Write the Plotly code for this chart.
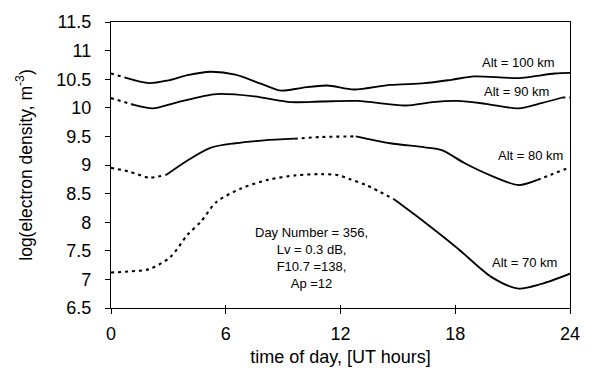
import plotly.graph_objects as go

# Electron density profiles (log10 m^-3) vs UT hour, per altitude
hours_100 = [0, 0.7, 2, 3, 4, 5.2, 6.5, 8, 8.9, 10, 11.3, 12.7, 14.6, 16.4, 17.8, 19, 21.3, 23.2, 24]
dens_100 = [10.60, 10.53, 10.43, 10.48, 10.57, 10.63, 10.58, 10.40, 10.30, 10.35, 10.39, 10.32, 10.40, 10.43, 10.49, 10.55, 10.52, 10.60, 10.61]
dotted_100 = [(0, 0.7)]

hours_90 = [0, 1.2, 2.2, 3.5, 5.5, 7.5, 9.4, 11, 12.9, 15.4, 16.8, 18.1, 19.6, 21.3, 22.5, 23.6, 24]
dens_90 = [10.17, 10.05, 9.99, 10.10, 10.24, 10.20, 10.10, 10.11, 10.12, 10.04, 10.10, 10.12, 10.07, 9.99, 10.08, 10.18, 10.18]
dotted_90 = [(0, 1.2), (23.6, 24)]

hours_80 = [0, 1, 2, 2.9, 4, 5.2, 6.5, 8, 9.6, 11, 12.8, 14.6, 16.4, 17.3, 18.5, 19.9, 21.3, 22.3, 23, 24]
dens_80 = [8.95, 8.88, 8.78, 8.83, 9.08, 9.30, 9.38, 9.43, 9.46, 9.49, 9.50, 9.38, 9.31, 9.26, 9.03, 8.81, 8.65, 8.74, 8.83, 8.96]
dotted_80 = [(0, 2.9), (9.6, 12.8), (22.3, 24)]

hours_70 = [0, 1, 2, 3.1, 4, 4.7, 5.5, 6.8, 8.2, 9.7, 11, 11.9, 12.5, 13.4, 14.8, 16.4, 18.1, 19.9, 21.3, 22.5, 24]
dens_70 = [7.12, 7.14, 7.18, 7.39, 7.78, 8.01, 8.35, 8.59, 8.74, 8.82, 8.84, 8.82, 8.75, 8.64, 8.40, 8.00, 7.55, 7.04, 6.84, 6.92, 7.10]
dotted_70 = [(0, 14.8)]

series = [
    (hours_100, dens_100, dotted_100),
    (hours_90, dens_90, dotted_90),
    (hours_80, dens_80, dotted_80),
    (hours_70, dens_70, dotted_70),
]

alt_labels = ["Alt = 100 km", "Alt = 90 km", "Alt = 80 km", "Alt = 70 km"]
alt_label_x = [21.3, 21.2, 21.95, 21.6]
alt_label_y = [10.80, 10.28, 9.17, 7.29]

x_ticks = [0, 6, 12, 18, 24]
info_lines = ["Day Number = 356,", "Lv = 0.3 dB,", "F10.7 =138,", "Ap =12"]

fig = go.Figure()


def in_dotted(a, b, ranges):
    return any(lo <= a and b <= hi for lo, hi in ranges)


for hrs, vals, dotted in series:
    # split the curve into runs of the same line style
    runs = []
    for i in range(len(hrs) - 1):
        style = "dot" if in_dotted(hrs[i], hrs[i + 1], dotted) else "solid"
        if runs and runs[-1][0] == style:
            runs[-1][1].append(i + 1)
        else:
            runs.append((style, [i, i + 1]))
    for style, idx in runs:
        fig.add_trace(go.Scatter(
            x=[hrs[k] for k in idx],
            y=[vals[k] for k in idx],
            mode="lines",
            line=dict(color="black", width=1.8 if style == "solid" else 2.1,
                      dash="solid" if style == "solid" else "3px,4px",
                      shape="spline", smoothing=0.8),
            showlegend=False,
            hoverinfo="skip",
        ))

label_font = dict(family="Liberation Sans, Arial", size=13, color="black")

for txt, lx, ly in zip(alt_labels, alt_label_x, alt_label_y):
    fig.add_annotation(x=lx, y=ly, text=txt, showarrow=False, font=label_font)

fig.add_annotation(x=10.5, y=7.37, text="<br>".join(info_lines), showarrow=False,
                   align="center", font=label_font)

font = dict(family="Liberation Sans, Arial", size=18, color="black")

fig.update_layout(
    width=592, height=378,
    margin=dict(l=111, r=22, t=16, b=70),
    paper_bgcolor="white", plot_bgcolor="white",
    font=font,
    xaxis=dict(range=[0, 24], tickvals=x_ticks, ticks="outside", ticklen=5,
               tickwidth=1, tickcolor="black", showline=True, linecolor="black",
               linewidth=1.2, mirror=True, showgrid=False, zeroline=False,
               ticklabelstandoff=4,
               title=dict(text="time of day, [UT hours]", standoff=7, font=font),
               tickfont=font),
    xaxis2=dict(range=[0, 24], tickvals=x_ticks, ticks="inside", ticklen=3,
                tickwidth=1, tickcolor="black", overlaying="x", side="bottom",
                showticklabels=False, showgrid=False, zeroline=False, showline=False),
    yaxis=dict(range=[6.5, 11.5], dtick=0.5, tick0=6.5, ticks="outside", ticklen=5,
               tickwidth=1, tickcolor="black", showline=True, linecolor="black",
               linewidth=1.2, mirror=True, showgrid=False, zeroline=False,
               ticklabelstandoff=10,
               title=dict(text="log(electron density, m<sup>-3</sup>)", standoff=19,
                          font=dict(family="Liberation Sans, Arial", size=17.5, color="black")),
               tickfont=font),
)

# invisible trace to attach the inside ticks axis
fig.add_trace(go.Scatter(x=[0], y=[6.5], xaxis="x2", mode="markers",
                         marker=dict(opacity=0), showlegend=False, hoverinfo="skip"))

fig.write_html("out.html")
